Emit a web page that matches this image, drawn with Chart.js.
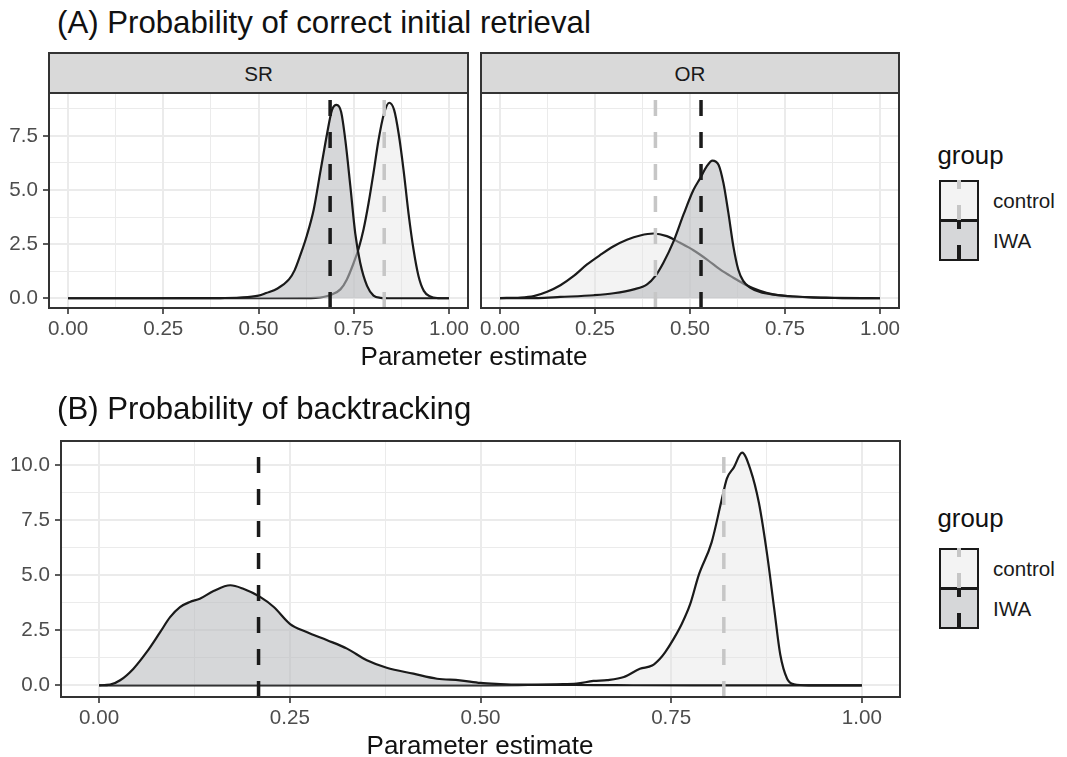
<!DOCTYPE html>
<html>
<head>
<meta charset="utf-8">
<title>Parameter estimates</title>
<script src="https://cdn.jsdelivr.net/npm/chart.js@4.4.1/dist/chart.umd.min.js"></script>
<style>
  body { margin: 0; background: #fff; font-family: "Liberation Sans", Arial, Helvetica, sans-serif; }
  #wrap { position: relative; width: 1067px; height: 757px; overflow: hidden; }
  canvas { position: absolute; }
  .txt { position: absolute; white-space: nowrap; line-height: 1; color: #111; }
  .strip { position: absolute; box-sizing: border-box; border: 2px solid #333; background: #d9d9d9;
           color: #1a1a1a; font-size: 20.6px; text-align: center; z-index: 2; }
  .key { position: absolute; box-sizing: border-box; border: 2.2px solid #1a1a1a; }
  .dash { position: absolute; width: 3.5px; z-index: 3; }
</style>
</head>
<body>
<div id="wrap">
  <canvas id="srChart" width="480" height="275" style="left:0px;top:73px"></canvas>
  <canvas id="orChart" width="440" height="275" style="left:471px;top:73px"></canvas>
  <canvas id="bChart" width="915" height="316" style="left:0px;top:421px"></canvas>
</div>
<script>
const FONT = '"Liberation Sans", Arial, Helvetica, sans-serif';
const TICK_SIZE = 20.6;

// axes
const xRange = [-0.05, 1.05];
const xTicks = [0, 0.25, 0.5, 0.75, 1];
const xTickLabels = ['0.00', '0.25', '0.50', '0.75', '1.00'];
const xMinor = [0.125, 0.375, 0.625, 0.875];

const yRangeA = [-0.45, 9.48];
const yTicksA = [0, 2.5, 5, 7.5];
const yTickLabelsA = ['0.0', '2.5', '5.0', '7.5'];
const yMinorA = [1.25, 3.75, 6.25, 8.75];

const yRangeB = [-0.53, 11.11];
const yTicksB = [0, 2.5, 5, 7.5, 10];
const yTickLabelsB = ['0.0', '2.5', '5.0', '7.5', '10.0'];
const yMinorB = [1.25, 3.75, 6.25, 8.75];

const groups = ['control', 'IWA'];
const facets = ['SR', 'OR'];

// posterior means (dashed lines): [control, IWA]
const meanSR = [0.83, 0.688];
const meanOR = [0.409, 0.529];
const meanB = [0.819, 0.209];

// (A) SR densities
const srControlX = [0, 0.5, 0.62, 0.65, 0.67, 0.689, 0.715, 0.732, 0.75, 0.763, 0.776, 0.789, 0.802, 0.815, 0.829, 0.843, 0.856, 0.868, 0.881, 0.894, 0.907, 0.92, 0.934, 0.951, 0.97, 1];
const srControlY = [0, 0, 0.005, 0.02, 0.06, 0.15, 0.41, 0.87, 1.64, 2.3, 3.2, 4.4, 5.8, 7.3, 8.5, 9.03, 8.7, 7.6, 5.9, 3.9, 2.25, 1.03, 0.34, 0.08, 0.01, 0];
const srIwaX = [0, 0.2, 0.3, 0.4, 0.45, 0.5, 0.52, 0.55, 0.58, 0.595, 0.61, 0.627, 0.645, 0.662, 0.68, 0.693, 0.705, 0.717, 0.728, 0.741, 0.754, 0.767, 0.785, 0.802, 0.82, 0.85, 1];
const srIwaY = [0, 0, 0.002, 0.01, 0.03, 0.12, 0.24, 0.45, 0.87, 1.3, 2.0, 2.9, 4.1, 5.8, 7.6, 8.7, 8.93, 8.6, 7.3, 5.2, 3.0, 1.64, 0.57, 0.12, 0.02, 0, 0];

// (A) OR densities
const orControlX = [0, 0.054, 0.089, 0.124, 0.159, 0.194, 0.229, 0.264, 0.299, 0.334, 0.369, 0.404, 0.439, 0.474, 0.509, 0.544, 0.579, 0.614, 0.649, 0.684, 0.719, 0.772, 0.824, 0.9, 1];
const orControlY = [0.01, 0.03, 0.1, 0.3, 0.6, 1.03, 1.56, 2.0, 2.4, 2.7, 2.9, 2.99, 2.87, 2.56, 2.22, 1.8, 1.33, 0.95, 0.6, 0.34, 0.18, 0.08, 0.03, 0.01, 0];
const orIwaX = [0, 0.1, 0.159, 0.247, 0.299, 0.352, 0.387, 0.409, 0.43, 0.457, 0.483, 0.509, 0.527, 0.544, 0.559, 0.575, 0.588, 0.601, 0.614, 0.627, 0.64, 0.658, 0.684, 0.719, 0.772, 0.859, 1];
const orIwaY = [0, 0.01, 0.06, 0.14, 0.23, 0.41, 0.64, 1.03, 1.64, 2.64, 3.87, 5.0, 5.55, 6.09, 6.36, 6.17, 5.32, 3.94, 2.41, 1.33, 0.8, 0.49, 0.29, 0.17, 0.08, 0.03, 0];

// (B) backtracking densities
const bControlX = [0, 0.5, 0.55, 0.6, 0.626, 0.648, 0.666, 0.688, 0.709, 0.725, 0.735, 0.742, 0.753, 0.764, 0.775, 0.786, 0.803, 0.816, 0.823, 0.832, 0.843, 0.854, 0.865, 0.876, 0.885, 0.893, 0.902, 0.911, 0.93, 1];
const bControlY = [0, 0, 0.01, 0.05, 0.08, 0.2, 0.24, 0.38, 0.75, 0.9, 1.2, 1.5, 2.1, 2.8, 3.7, 5.0, 6.5, 8.4, 9.4, 9.9, 10.58, 9.8, 8.3, 5.9, 3.5, 1.4, 0.3, 0.05, 0, 0];
const bIwaX = [0, 0.0144, 0.0275, 0.045, 0.0625, 0.08, 0.093, 0.106, 0.119, 0.132, 0.15, 0.172, 0.189, 0.211, 0.229, 0.25, 0.272, 0.299, 0.325, 0.351, 0.377, 0.412, 0.443, 0.473, 0.5, 0.526, 0.55, 0.6, 0.65, 0.7, 0.8, 1];
const bIwaY = [0, 0.03, 0.23, 0.76, 1.52, 2.42, 3.1, 3.56, 3.79, 3.94, 4.29, 4.55, 4.39, 4.02, 3.56, 2.8, 2.42, 2.05, 1.67, 1.14, 0.8, 0.53, 0.3, 0.23, 0.11, 0.06, 0.03, 0.02, 0.01, 0.005, 0, 0];

const fillColors = ['rgba(225,225,225,0.4)', 'rgba(186,188,192,0.6)'];
const meanColors = ['#c6c6c6', '#1a1a1a'];

const panelBorder = {
  id: 'panelBorder',
  afterDraw(chart) {
    const { ctx, chartArea: a } = chart;
    ctx.save();
    ctx.strokeStyle = '#333333';
    ctx.lineWidth = 2;
    ctx.strokeRect(a.left, a.top, a.right - a.left, a.bottom - a.top);
    ctx.restore();
  }
};

function axis(range, major, minor, labels, opt) {
  const all = major.concat(minor).sort((a, b) => a - b);
  const isMajor = c => c.tick && major.includes(c.tick.value);
  return {
    type: 'linear',
    min: range[0],
    max: range[1],
    afterBuildTicks: s => { s.ticks = all.map(v => ({ value: v })); },
    afterFit: s => { if (opt.horiz) s.height = opt.size; else s.width = opt.size; },
    ticks: {
      display: opt.labels,
      autoSkip: false,
      maxRotation: 0,
      minRotation: 0,
      padding: opt.pad,
      color: '#4d4d4d',
      font: { family: FONT, size: TICK_SIZE },
      callback: v => { const i = major.indexOf(v); return i >= 0 ? labels[i] : ''; }
    },
    grid: {
      color: '#ebebeb',
      lineWidth: c => isMajor(c) ? 2 : 1,
      drawTicks: opt.labels,
      tickLength: 6,
      tickWidth: 1.6,
      tickColor: c => isMajor(c) ? '#333333' : 'rgba(0,0,0,0)'
    },
    border: { display: false }
  };
}

function density(xs, ys, g) {
  return {
    data: xs.map((x, i) => ({ x: x, y: ys[i] })),
    borderColor: '#1a1a1a',
    borderWidth: 2.2,
    backgroundColor: fillColors[g],
    fill: 'origin',
    pointRadius: 0,
    cubicInterpolationMode: 'monotone',
    order: 2 - g
  };
}

function vline(m, range, g) {
  return {
    data: [{ x: m, y: range[0] }, { x: m, y: range[1] }],
    borderColor: meanColors[g],
    borderWidth: 3.5,
    borderDash: [16, 16],
    pointRadius: 0,
    fill: false,
    order: 0
  };
}

function makeChart(id, datasets, yRange, yMajor, yMinor, yLabels, showY, yWidth, padding) {
  return new Chart(document.getElementById(id), {
    type: 'line',
    data: { datasets: datasets },
    plugins: [panelBorder],
    options: {
      responsive: false,
      animation: false,
      events: [],
      layout: { padding: padding },
      plugins: { legend: { display: false }, tooltip: { enabled: false } },
      scales: {
        x: axis(xRange, xTicks, xMinor, xTickLabels, { horiz: true, size: 40, labels: true, pad: 3 }),
        y: axis(yRange, yMajor, yMinor, yLabels, { horiz: false, size: yWidth, labels: showY, pad: 5 })
      }
    }
  });
}

makeChart('srChart', [
  density(srControlX, srControlY, 0),
  density(srIwaX, srIwaY, 1),
  vline(meanSR[0], yRangeA, 0),
  vline(meanSR[1], yRangeA, 1)
], yRangeA, yTicksA, yMinorA, yTickLabelsA, true, 49, { top: 20, right: 12, left: 0, bottom: 0 });

makeChart('orChart', [
  density(orControlX, orControlY, 0),
  density(orIwaX, orIwaY, 1),
  vline(meanOR[0], yRangeA, 0),
  vline(meanOR[1], yRangeA, 1)
], yRangeA, yTicksA, yMinorA, yTickLabelsA, false, 0, { top: 20, right: 12, left: 10, bottom: 0 });

makeChart('bChart', [
  density(bControlX, bControlY, 0),
  density(bIwaX, bIwaY, 1),
  vline(meanB[0], yRangeB, 0),
  vline(meanB[1], yRangeB, 1)
], yRangeB, yTicksB, yMinorB, yTickLabelsB, true, 61, { top: 20, right: 15, left: 0, bottom: 0 });

// text, strips and legends
const wrap = document.getElementById('wrap');

function addText(str, left, baseline, size, extra) {
  const d = document.createElement('div');
  d.className = 'txt';
  d.textContent = str;
  d.style.fontSize = size + 'px';
  d.style.top = (baseline - 0.8465 * size) + 'px';
  d.style.left = left + 'px';
  if (extra) Object.assign(d.style, extra);
  wrap.appendChild(d);
  return d;
}

function addCentered(str, center, baseline, size) {
  return addText(str, center - 200, baseline, size, { width: '400px', textAlign: 'center' });
}

function addStrip(label, left, right) {
  const d = document.createElement('div');
  d.className = 'strip';
  d.textContent = label;
  d.style.left = left + 'px';
  d.style.top = '52px';
  d.style.width = (right - left) + 'px';
  d.style.height = '42px';
  d.style.lineHeight = '38px';
  d.style.paddingTop = '1px';
  wrap.appendChild(d);
}

function addLegend(titleBaseline, keyTop) {
  addText('group', 937.5, titleBaseline, 25.8);
  groups.forEach((g, i) => {
    const top = keyTop + i * 40.5;
    const k = document.createElement('div');
    k.className = 'key';
    Object.assign(k.style, { left: '939px', top: top + 'px', width: '40px', height: '41px', background: fillColors[i] });
    wrap.appendChild(k);
    const d = document.createElement('div');
    d.className = 'dash';
    Object.assign(d.style, {
      left: '957.3px', top: top + 'px', height: '41px',
      background: 'repeating-linear-gradient(to top, ' + meanColors[i] + ' 0 16px, transparent 16px 32px)'
    });
    wrap.appendChild(d);
    const t = addText(g, 993, 0, 20.6, { height: '41px', lineHeight: '41px', color: '#1a1a1a' });
    t.style.top = top + 'px';
  });
}

addText('(A) Probability of correct initial retrieval', 57, 33.5, 31.2);
addText('(B) Probability of backtracking', 57, 419.3, 31.2);
addStrip(facets[0], 48, 469);
addStrip(facets[1], 480, 900);
addCentered('Parameter estimate', 474, 365, 26);
addCentered('Parameter estimate', 480, 754, 26);
addLegend(165, 179.5);
addLegend(528.3, 547.7);
</script>
</body>
</html>
